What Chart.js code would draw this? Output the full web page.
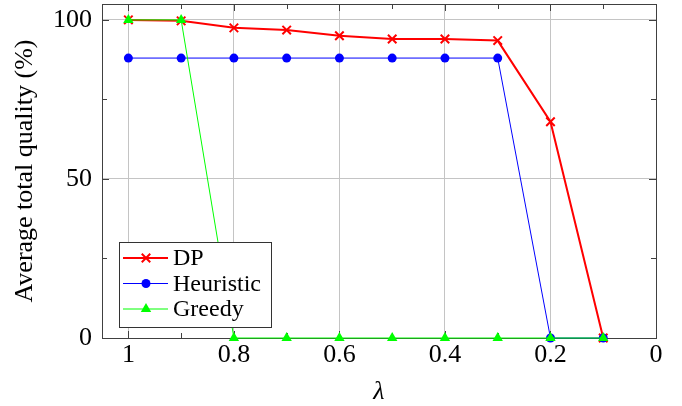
<!DOCTYPE html>
<html>
<head>
<meta charset="utf-8">
<script src="https://cdn.jsdelivr.net/npm/chart.js@4/dist/chart.umd.min.js"></script>
<style>
    html, body { margin: 0; padding: 0; background: #fff; }
    #wrap { width: 682px; height: 406px; }
</style>
</head>
<body>
<div id="wrap"><canvas id="qualityChart"></canvas></div>
<script>
// data
const lambdas = [1, 0.9, 0.8, 0.7, 0.6, 0.5, 0.4, 0.3, 0.2, 0.1];
const dpValues = [100, 99.7, 97.5, 96.8, 95, 94, 94, 93.5, 68, 0];
const heuristicValues = [88, 88, 88, 88, 88, 88, 88, 88, 0, 0];
const greedyValues = [100, 100, 0, 0, 0, 0, 0, 0, 0, 0];

const xTicks = [1, 0.8, 0.6, 0.4, 0.2, 0];
const xMinorTicks = [0.9, 0.7, 0.5, 0.3, 0.1];
const yTicks = [0, 50, 100];
const yMinorTicks = [25, 75];

const FONT = "Liberation Serif";
const GRID = "#c4c4c4";
const AXIS = "#404040";

function toPoints(values) {
    return lambdas.map((l, i) => ({ x: l, y: values[i] }));
}

/* frame + inner tick marks, like pgfplots */
const framePlugin = {
    id: "frame",
    beforeDatasetsDraw(chart) {
        const { ctx, chartArea: a, scales } = chart;
        ctx.save();
        ctx.strokeStyle = AXIS;
        ctx.lineWidth = 1;

        const tick = (x1, y1, x2, y2) => {
            ctx.beginPath();
            ctx.moveTo(x1, y1);
            ctx.lineTo(x2, y2);
            ctx.stroke();
        };

        xTicks.forEach(v => {
            const x = Math.round(scales.x.getPixelForValue(v)) + 0.5;
            tick(x, a.bottom, x, a.bottom - 7);
            tick(x, a.top, x, a.top + 7);
        });
        xMinorTicks.forEach(v => {
            const x = Math.round(scales.x.getPixelForValue(v)) + 0.5;
            tick(x, a.bottom, x, a.bottom - 5);
            tick(x, a.top, x, a.top + 5);
        });
        yTicks.forEach(v => {
            const y = Math.round(scales.y.getPixelForValue(v)) + 0.5;
            tick(a.left, y, a.left + 7, y);
            tick(a.right, y, a.right - 7, y);
        });
        yMinorTicks.forEach(v => {
            const y = Math.round(scales.y.getPixelForValue(v)) + 0.5;
            tick(a.left, y, a.left + 5, y);
            tick(a.right, y, a.right - 5, y);
        });

        ctx.strokeRect(Math.round(a.left) + 0.5, Math.round(a.top) + 0.5,
            Math.round(a.right - a.left), Math.round(a.bottom - a.top));
        ctx.restore();
    }
};

/* boxed legend in the lower left of the plot */
const boxLegend = {
    id: "boxLegend",
    afterDraw(chart) {
        const { ctx, chartArea: a } = chart;
        const boxX = a.left + 17, boxY = a.bottom - 96, boxW = 152, boxH = 85;
        ctx.save();
        ctx.fillStyle = "#fff";
        ctx.fillRect(boxX, boxY, boxW, boxH);
        ctx.strokeStyle = "#333";
        ctx.lineWidth = 1;
        ctx.strokeRect(boxX + 0.5, boxY + 0.5, boxW, boxH);

        chart.data.datasets.forEach((ds, i) => {
            const y = boxY + 16 + i * 25.5;
            ctx.strokeStyle = ds.borderColor;
            ctx.fillStyle = ds.backgroundColor;
            ctx.lineWidth = ds.borderWidth;
            ctx.beginPath();
            ctx.moveTo(boxX + 4, y);
            ctx.lineTo(boxX + 49, y);
            ctx.stroke();
            ctx.lineWidth = ds.pointBorderWidth;
            Chart.helpers.drawPoint(ctx, {
                pointStyle: ds.pointStyle,
                radius: ds.pointRadius,
                rotation: 0,
                borderWidth: ds.pointBorderWidth
            }, boxX + 27, y);
            ctx.fillStyle = "#000";
            ctx.font = "24px '" + FONT + "', serif";
            ctx.textBaseline = "middle";
            ctx.fillText(ds.label, boxX + 54, y + 1);
        });
        ctx.restore();
    }
};

function buildChart() {
    const ctx = document.getElementById("qualityChart").getContext("2d");

    new Chart(ctx, {
        type: "line",
        data: {
            datasets: [
                {
                    label: "DP",
                    data: toPoints(dpValues),
                    borderColor: "#ff0000",
                    backgroundColor: "#ff0000",
                    borderWidth: 2,
                    pointStyle: "crossRot",
                    pointRadius: 6,
                    pointBorderWidth: 2,
                    order: 3
                },
                {
                    label: "Heuristic",
                    data: toPoints(heuristicValues),
                    borderColor: "#0000ff",
                    backgroundColor: "#0000ff",
                    borderWidth: 1,
                    pointStyle: "circle",
                    pointRadius: 4.5,
                    pointBorderWidth: 0,
                    order: 2
                },
                {
                    label: "Greedy",
                    data: toPoints(greedyValues),
                    borderColor: "#00ff00",
                    backgroundColor: "#00ff00",
                    borderWidth: 1,
                    pointStyle: "triangle",
                    pointRadius: 6,
                    pointBorderWidth: 0,
                    order: 1
                }
            ]
        },
        options: {
            responsive: true,
            maintainAspectRatio: false,
            animation: false,
            clip: false,
            layout: { autoPadding: false, padding: { top: 4, right: 26, left: 0, bottom: 0 } },
            plugins: {
                legend: { display: false },
                tooltip: { enabled: false }
            },
            scales: {
                x: {
                    type: "linear",
                    reverse: true,
                    min: 0,
                    max: 1.05,
                    afterBuildTicks: s => { s.ticks = xTicks.map(v => ({ value: v })); },
                    afterFit: s => { s.height = 68; s.paddingLeft = 0; s.paddingRight = 0; },
                    grid: { color: GRID, drawTicks: false },
                    border: { display: false },
                    ticks: {
                        color: "#000",
                        padding: 2,
                        maxRotation: 0,
                        font: { family: FONT, size: 26 },
                        callback: v => String(v)
                    },
                    title: {
                        display: true,
                        text: "λ",
                        color: "#000",
                        padding: { top: 0, bottom: -2 },
                        font: { family: FONT, size: 26, style: "italic" }
                    }
                },
                y: {
                    min: 0,
                    max: 105,
                    afterBuildTicks: s => { s.ticks = yTicks.map(v => ({ value: v })); },
                    afterFit: s => { s.width = 102; s.paddingTop = 0; s.paddingBottom = 0; },
                    grid: { color: GRID, drawTicks: false },
                    border: { display: false },
                    ticks: {
                        color: "#000",
                        padding: 10,
                        font: { family: FONT, size: 26 }
                    },
                    title: {
                        display: true,
                        text: "Average total quality (%)",
                        color: "#000",
                        padding: { top: 10, bottom: 0 },
                        font: { family: FONT, size: 26 }
                    }
                }
            }
        },
        plugins: [framePlugin, boxLegend]
    });
}

document.addEventListener("DOMContentLoaded", () => {
    Promise.all([
        document.fonts.load("26px 'Liberation Serif'"),
        document.fonts.load("italic 26px 'Liberation Serif'")
    ]).catch(() => {}).then(buildChart);
});
</script>
</body>
</html>
